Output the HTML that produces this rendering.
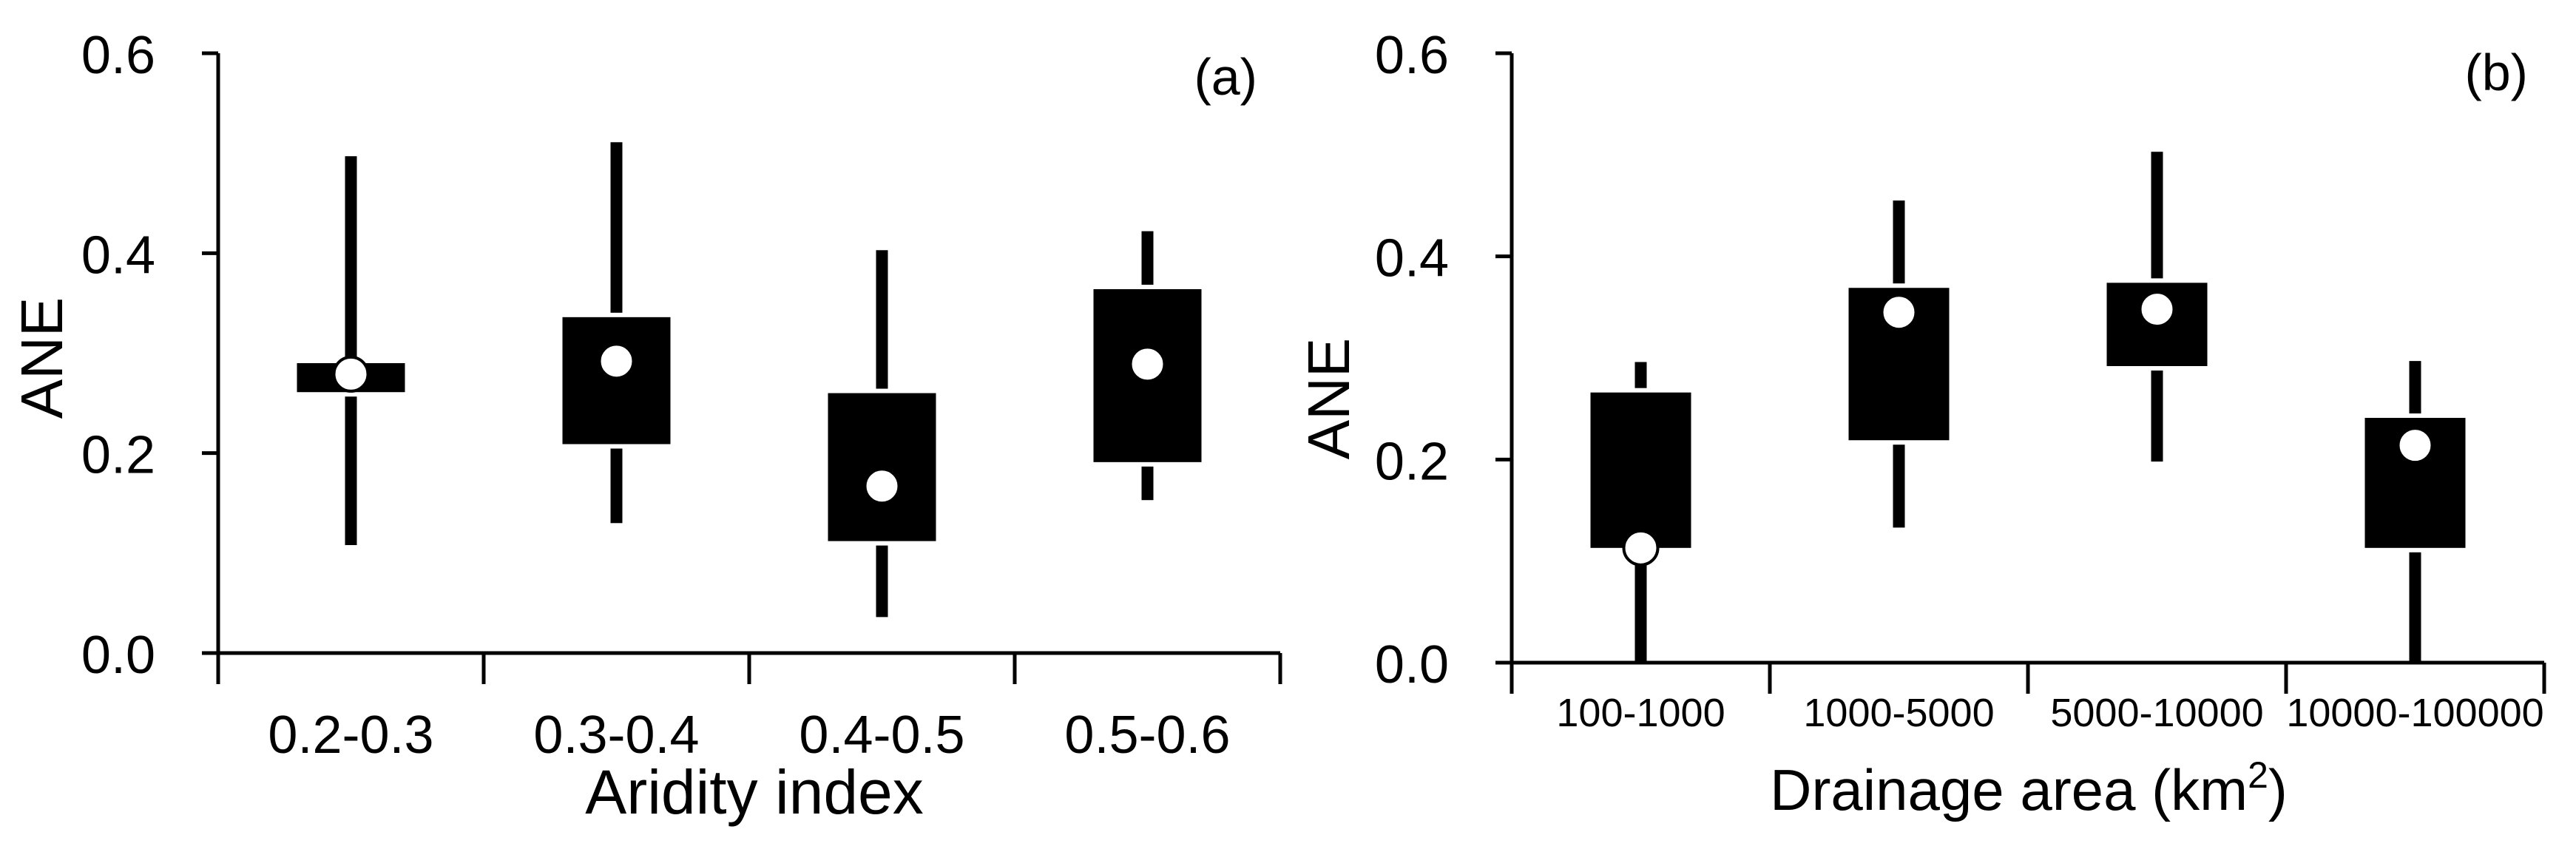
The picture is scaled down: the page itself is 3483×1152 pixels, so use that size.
<!DOCTYPE html>
<html><head><meta charset="utf-8"><style>
html,body{margin:0;padding:0;background:#fff}
svg{display:block}
text{font-family:"Liberation Sans",sans-serif;fill:#000}
</style></head><body>
<svg id="chart" width="3483" height="1152" viewBox="0 0 3483 1152" xmlns="http://www.w3.org/2000/svg">
<g id="pa"></g>
<g id="pb"></g>
</svg>
<script>
const catsA = ["0.2-0.3","0.3-0.4","0.4-0.5","0.5-0.6"];
const whiskerTopA = [0.497,0.511,0.403,0.422];
const whiskerBotA = [0.108,0.130,0.036,0.153];
const boxTopA = [0.290,0.336,0.260,0.364];
const boxBotA = [0.261,0.209,0.112,0.191];
const meanA = [0.279,0.292,0.167,0.289];

const catsB = ["100-1000","1000-5000","5000-10000","10000-100000"];
const whiskerTopB = [0.296,0.455,0.503,0.297];
const whiskerBotB = [0.0,0.133,0.198,0.0];
const boxTopB = [0.266,0.369,0.374,0.241];
const boxBotB = [0.113,0.219,0.292,0.113];
const meanB = [0.113,0.345,0.348,0.214];

const yTicks = [0,0.2,0.4,0.6];
const yTickLabels = ["0.0","0.2","0.4","0.6"];

const NS="http://www.w3.org/2000/svg";
function mk(parent,tag,attrs,text){
  const e=document.createElementNS(NS,tag);
  for(const k in attrs) e.setAttribute(k,attrs[k]);
  if(text!==undefined) e.textContent=text;
  parent.appendChild(e); return e;
}

function panel(g,cfg){
  const {x0,x1,y0,y6,cats,wt,wb,bt,bb,mn,boxW,catFont,catY,title,titleFont,titleX,titleY,yLabX,yLabY,tag,tagX,tagY}=cfg;
  const ys=v=>y0-(y0-y6)*v/0.6;
  const n=cats.length, step=(x1-x0)/n;
  const xs=i=>x0+step*(i+0.5);
  let e;
  e=mk(g,'line',{x1:x0,y1:y6,x2:x0,y2:y0,stroke:'#000','stroke-width':5});
  
  
  e=mk(g,'line',{x1:x0-22,y1:y0,x2:x1,y2:y0,stroke:'#000','stroke-width':5});
  
  
  yTicks.forEach((t,i)=>{
    e=mk(g,'line',{x1:x0-22,y1:ys(t),x2:x0,y2:ys(t),stroke:'#000','stroke-width':5});
    
    
    e=mk(g,'text',{x:x0-85,y:ys(t)+27,'text-anchor':'end','font-size':72},yTickLabels[i]);
    
    
  });
  for(let i=0;i<=n;i++){
    e=mk(g,'line',{x1:x0+step*i,y1:y0,x2:x0+step*i,y2:y0+42,stroke:'#000','stroke-width':5});
    
    
  }
  cats.forEach((c,i)=>{
    const cx=xs(i);
    const gap=6;
    e=mk(g,'rect',{x:cx-8,y:ys(wt[i]),width:16,height:Math.max(0,ys(bt[i])-ys(wt[i])-gap)});
    
    
    e=mk(g,'rect',{x:cx-8,y:ys(bb[i])+gap,width:16,height:Math.max(0,ys(wb[i])-ys(bb[i])-gap)});
    
    
    e=mk(g,'rect',{x:cx-boxW/2,y:ys(bt[i]),width:boxW,height:ys(bb[i])-ys(bt[i])});
    
    
    e=mk(g,'ellipse',{cx:cx,cy:ys(mn[i]),rx:23,ry:23,fill:'#fff',stroke:'#000','stroke-width':4});
    
    
    e=mk(g,'text',{x:cx,y:catY,'text-anchor':'middle','font-size':catFont},c);
    
    
  });
  e=mk(g,'text',{x:titleX,y:titleY,'text-anchor':'middle','font-size':titleFont},'');
  e.innerHTML=title;
  
  
  e=mk(g,'text',{x:yLabX,y:yLabY,'text-anchor':'middle','font-size':80,transform:`rotate(-90 ${yLabX} ${yLabY})`},'ANE');
  
  
  e=mk(g,'text',{x:tagX,y:tagY,'text-anchor':'end','font-size':70},tag);
  
  
}

panel(document.getElementById('pa'),{x0:295,x1:1731,y0:883,y6:72,cats:catsA,wt:whiskerTopA,wb:whiskerBotA,bt:boxTopA,bb:boxBotA,mn:meanA,boxW:146,catFont:72,catY:1018,title:'Aridity index',titleFont:84,titleX:1020,titleY:1100,yLabX:84,yLabY:484,tag:'(a)',tagX:1700,tagY:128});
panel(document.getElementById('pb'),{x0:2044,x1:3440,y0:896,y6:72,cats:catsB,wt:whiskerTopB,wb:whiskerBotB,bt:boxTopB,bb:boxBotB,mn:meanB,boxW:136,catFont:54,catY:982,title:'Drainage area (km<tspan dy="-30" font-size="50">2</tspan><tspan dy="30">)</tspan>',titleFont:78,titleX:2743,titleY:1095,yLabX:1824,yLabY:539,tag:'(b)',tagX:3418,tagY:122});
</script>
</body></html>
